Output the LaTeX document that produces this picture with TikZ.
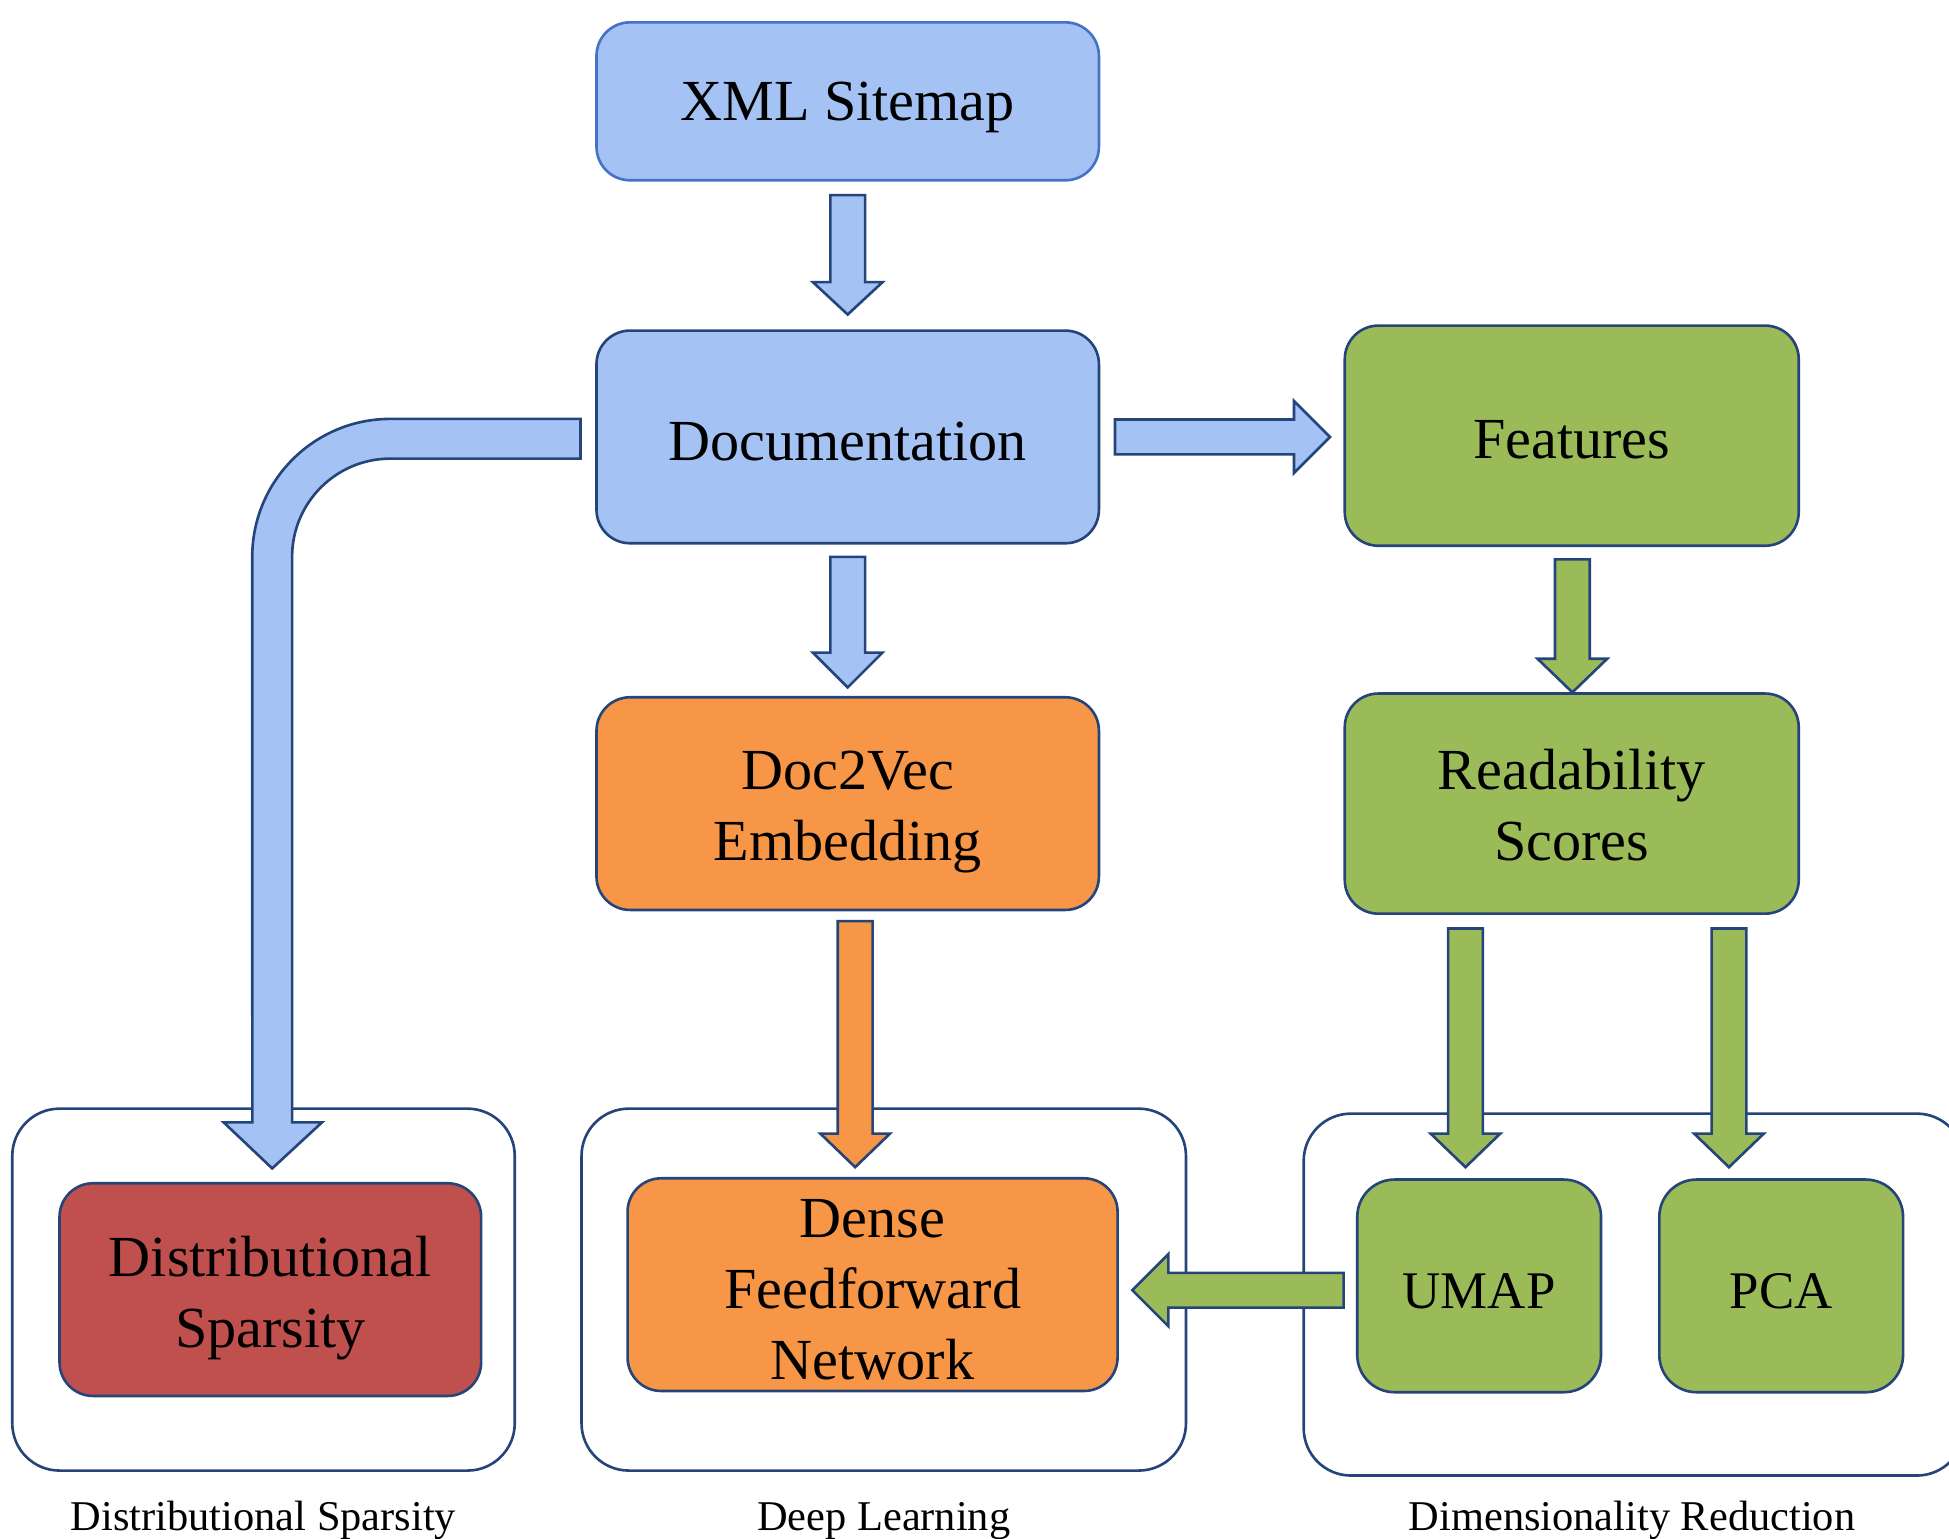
\documentclass[tikz,border=0pt]{standalone}
\usepackage{fontspec}
\setmainfont{Liberation Serif}
\definecolor{bluefill}{HTML}{A4C2F4}
\definecolor{orangefill}{HTML}{F69646}
\definecolor{greenfill}{HTML}{9BBB59}
\definecolor{redfill}{HTML}{C0504D}
\definecolor{navy}{HTML}{25457A}
\definecolor{lightnavy}{HTML}{4472C4}
\newcommand{\vblk}[5]{\draw[#1] ({#2-14},#3) -- ({#2+14},#3) -- ({#2+14},#4) -- ({#2+28},#4) -- (#2,#5) -- ({#2-28},#4) -- ({#2-14},#4) -- cycle;}
\newcommand{\hblk}[5]{\draw[#1] (#3,{#2-14}) -- (#4,{#2-14}) -- (#4,{#2-29}) -- (#5,#2) -- (#4,{#2+29}) -- (#4,{#2+14}) -- (#3,{#2+14}) -- cycle;}
\begin{document}
\begin{tikzpicture}[x=0.01cm,y=-0.01cm,
  box/.style={draw=navy, line width=0.6pt, rounded corners=0.27cm, inner sep=0pt},
  txt/.style={align=center, inner sep=0pt, font=\fontsize{13.3}{16.2}\selectfont, text=black},
  stxt/.style={align=center, inner sep=0pt, font=\fontsize{12.1}{14.6}\selectfont, text=black},
  group/.style={draw=navy, line width=0.6pt, rounded corners=0.38cm, inner sep=0pt},
  blk/.style={draw=navy, line width=0.6pt, line join=miter},
  lbl/.style={font=\fontsize{9.7}{11.5}\selectfont, anchor=base}]
\useasboundingbox (0,0) rectangle (1568,1238);

% group frames
\node[group, minimum width=4.04cm, minimum height=2.91cm] (gds) at (212,1037.5) {};
\node[group, minimum width=4.86cm, minimum height=2.91cm] (gdl) at (711,1037.5) {};
\node[group, minimum width=5.31cm, minimum height=2.91cm] (gdr) at (1314.5,1041.5) {};

% boxes
\node[box, draw=lightnavy, fill=bluefill, minimum width=4.04cm, minimum height=1.27cm] (xml) at (682,81.5) {};
\node[box, fill=bluefill, minimum width=4.04cm, minimum height=1.71cm] (doc) at (682,351.5) {};
\node[box, fill=greenfill, minimum width=3.65cm, minimum height=1.77cm] (feat) at (1264.5,350.5) {};
\node[box, fill=greenfill, minimum width=3.65cm, minimum height=1.77cm] (read) at (1264.5,646.5) {};
\node[box, fill=orangefill, minimum width=4.04cm, minimum height=1.71cm] (d2v) at (682,646.5) {};
\node[box, fill=orangefill, minimum width=3.94cm, minimum height=1.71cm] (dense) at (702,1033.5) {};
\node[box, fill=redfill, minimum width=3.39cm, minimum height=1.71cm] (dist) at (217.5,1037.5) {};
\node[box, fill=greenfill, minimum width=1.96cm, minimum height=1.71cm, rounded corners=0.3cm] (umap) at (1190,1034.5) {};
\node[box, fill=greenfill, minimum width=1.96cm, minimum height=1.71cm, rounded corners=0.3cm] (pca) at (1433,1034.5) {};

% box texts
\node[txt] (xmlt) at (682,86.5) {XML Sitemap};
\node[txt] (doct) at (682,355.5) {Documentation};
\node[txt] (featt) at (1264.5,353.5) {Features};
\node[txt] (readt) at (1264.5,647.5) {Readability\\Scores};
\node[txt] (d2vt) at (682,653.5) {Doc2Vec\\Embedding};
\node[txt] (denset) at (702,1037.5) {Dense\\Feedforward\\Network};
\node[txt] (distt) at (217.5,1044.5) {Distributional\\Sparsity};
\node[stxt] (umapt) at (1190,1038.5) {UMAP};
\node[stxt] (pcat) at (1433,1038.5) {PCA};

% block arrows
\vblk{blk, fill=bluefill}{682}{157}{227}{253}
\vblk{blk, fill=bluefill}{682}{448}{525}{553}
\vblk{blk, fill=greenfill}{1265}{450}{530}{557}
\vblk{blk, fill=orangefill}{688}{741}{912}{939}
\vblk{blk, fill=greenfill}{1179}{747}{912}{939}
\vblk{blk, fill=greenfill}{1391}{747}{912}{939}
\hblk{blk, fill=bluefill}{351.5}{897}{1041}{1070}
\hblk{blk, fill=greenfill}{1038}{1081}{940}{911}

% bent arrow from Documentation to Distributional Sparsity
\draw[blk, fill=bluefill] (467,337) -- (314,337) arc[start angle=90, end angle=180, radius=1.11cm]
  -- (203,903) -- (180,903) -- (219,940) -- (259,903) -- (235,903) -- (235,448)
  arc[start angle=180, end angle=90, radius=0.79cm] -- (467,369) -- cycle;

% group labels
\node[lbl] (lds) at (212,1231) {Distributional Sparsity};
\node[lbl] (ldl) at (711,1231) {Deep Learning};
\node[lbl] (ldr) at (1313,1231) {Dimensionality Reduction};
\end{tikzpicture}
\end{document}
